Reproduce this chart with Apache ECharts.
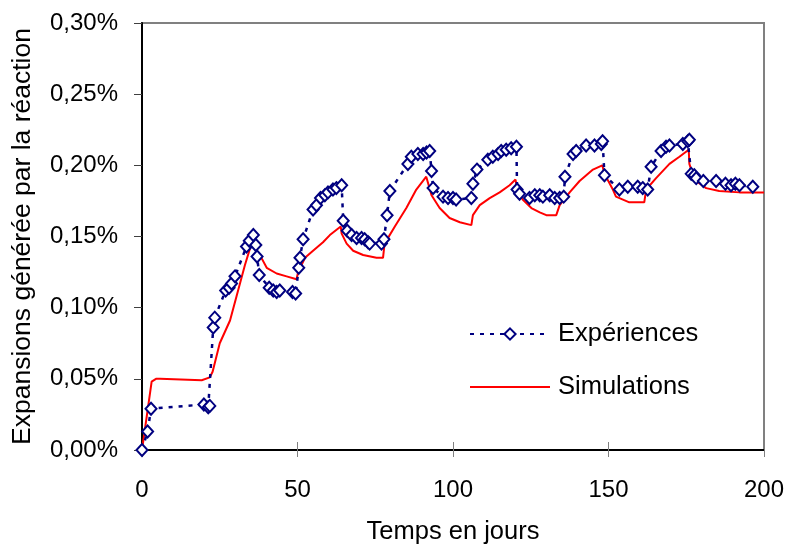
<!DOCTYPE html>
<html><head><meta charset="utf-8">
<script src="https://cdn.jsdelivr.net/npm/echarts@6/dist/echarts.min.js"></script>
<style>html,body{margin:0;padding:0;background:#fff}#c{width:787px;height:547px}</style>
</head><body><div id="c"></div>
<script>
const expDays = [0,1.8,2.9,19.9,21.3,21.8,22.9,23.4,26.9,28.0,28.8,29.9,33.6,34.5,35.8,36.6,37.0,37.7,40.9,42.2,43.3,44.3,48.4,49.4,50.4,50.8,51.8,55,56.1,57.4,58.8,59.8,61.4,62.5,64.2,64.7,66,67.4,69,70.6,71.6,72.7,73.2,77,77.8,78.8,79.7,85.5,86.6,88.7,90.4,91.5,92.5,93.1,93.6,96.8,98.4,100,101,105.9,106.4,107.7,111.2,112.8,114.5,115.5,117.1,118.7,120.4,120.6,121.4,124.6,126.3,127.9,128.9,131.1,132.7,134.3,135.6,136,138.6,139.6,142.8,145.5,147.7,148.1,148.7,153.5,156.2,159.4,161,162.6,163.7,166.9,168.5,169.6,173.9,175.5,176,176.6,177.6,178.2,180.5,184.6,187.6,189.4,190.8,192.1,196.4];
const expValues = [0.000,0.013,0.029,0.032,0.030,0.031,0.086,0.093,0.112,0.114,0.117,0.122,0.143,0.147,0.151,0.144,0.136,0.123,0.114,0.112,0.111,0.112,0.111,0.110,0.128,0.135,0.148,0.169,0.172,0.177,0.179,0.181,0.183,0.184,0.186,0.161,0.154,0.151,0.149,0.149,0.148,0.146,0.145,0.145,0.148,0.165,0.182,0.201,0.206,0.208,0.208,0.209,0.210,0.196,0.184,0.178,0.177,0.177,0.176,0.177,0.187,0.197,0.204,0.206,0.208,0.210,0.211,0.212,0.213,0.183,0.180,0.177,0.179,0.179,0.178,0.179,0.177,0.177,0.178,0.192,0.208,0.210,0.214,0.214,0.215,0.217,0.193,0.183,0.185,0.185,0.184,0.183,0.199,0.210,0.213,0.214,0.215,0.217,0.218,0.194,0.193,0.191,0.189,0.189,0.187,0.186,0.187,0.186,0.185];
const simDays = [0,3.1,4.5,5.8,19.2,21.8,22.7,25,28.3,30.4,33.1,35.2,38.4,40.1,43.3,46.5,49.7,50.2,52.4,55,58.2,60.4,63.9,64.2,65.8,67.9,71.1,75.4,77.5,78,81.3,85,88.2,91.4,93.1,95.7,98.9,102.2,105.9,106.4,108.6,111.8,115,118.2,120.1,120.5,122.4,125.2,127.9,130,133.2,134.3,137.5,140.7,145,148,148.7,151.4,152.4,156.7,161.5,162.1,165.3,169.6,172.8,175.8,176,177.6,181.4,185.6,192.1,200];
const simValues = [0,0.048,0.050,0.050,0.049,0.051,0.055,0.075,0.091,0.108,0.130,0.145,0.135,0.128,0.124,0.122,0.120,0.125,0.135,0.140,0.146,0.151,0.157,0.152,0.145,0.140,0.137,0.135,0.135,0.145,0.157,0.170,0.183,0.192,0.179,0.170,0.163,0.160,0.158,0.165,0.172,0.177,0.181,0.186,0.190,0.185,0.176,0.170,0.167,0.165,0.165,0.172,0.181,0.189,0.197,0.200,0.194,0.183,0.178,0.174,0.174,0.183,0.191,0.201,0.206,0.211,0.201,0.190,0.184,0.182,0.181,0.181];
const seriesNames = ['Expériences','Simulations'];
const xTitle = 'Temps en jours';
const yTitle = 'Expansions générée par la réaction';

const font = 'Liberation Sans, Arial, sans-serif';
const chart = echarts.init(document.getElementById('c'));
chart.setOption({
  animation: false,
  backgroundColor: '#fff',
  grid: {left: 142, right: 23, top: 23, bottom: 97, outerBoundsMode: 'none', containLabel: false,
         show: true, borderColor: '#808080', borderWidth: 2, backgroundColor: 'transparent'},
  legend: {
    orient: 'vertical', left: 469, top: 321, padding: 0, itemWidth: 80, itemHeight: 14, itemGap: 27,
    textStyle: {fontFamily: font, fontSize: 25.5, color: '#000', padding: [0,0,0,3]},
    data: [{name: seriesNames[0]}, {name: seriesNames[1], itemStyle: {opacity: 0}}]
  },
  xAxis: [{
    type: 'value', min: 0, max: 200, interval: 50,
    name: xTitle, nameLocation: 'middle', nameGap: 69,
    nameTextStyle: {fontFamily: font, fontSize: 25.5, color: '#000'},
    axisLine: {show: true, onZero: false, lineStyle: {color: '#000', width: 2}},
    axisTick: {show: true, inside: false, length: 7, lineStyle: {color: '#808080', width: 1}},
    axisLabel: {fontFamily: font, fontSize: 24, color: '#000', margin: 28},
    splitLine: {show: false}
  },{
    type: 'value', min: 0, max: 200, interval: 50, position: 'bottom',
    axisLine: {show: false},
    axisTick: {show: true, inside: true, length: 8, lineStyle: {color: '#808080', width: 1}},
    axisLabel: {show: false}, splitLine: {show: false}
  }],
  yAxis: {
    type: 'value', min: 0, max: 0.30, interval: 0.05,
    name: yTitle, nameLocation: 'middle', nameGap: 106, nameRotate: 90,
    nameTextStyle: {fontFamily: font, fontSize: 26.5, color: '#000'},
    axisLine: {show: true, lineStyle: {color: '#000', width: 2}},
    axisTick: {show: true, inside: false, length: 8, lineStyle: {color: '#404040', width: 1}},
    axisLabel: {fontFamily: font, fontSize: 24, color: '#000', margin: 24,
      formatter: v => v.toFixed(2).replace('.', ',') + '%'},
    splitLine: {show: false}
  },
  series: [{
    name: seriesNames[1], type: 'line', xAxisIndex: 0,
    data: simDays.map((d,i) => [d, simValues[i]]),
    showSymbol: false, symbol: 'none',
    lineStyle: {color: '#ff0000', width: 2}, itemStyle: {color: '#ff0000'}, z: 2
  },{
    name: seriesNames[0], type: 'line', xAxisIndex: 0,
    data: expDays.map((d,i) => [d, expValues[i]]),
    symbol: 'diamond', symbolSize: [11, 12], showAllSymbol: true,
    lineStyle: {color: '#000080', width: 2.5, type: [4, 6]},
    itemStyle: {color: '#fff', borderColor: '#000080', borderWidth: 2}, z: 3
  }]
});
</script></body></html>
